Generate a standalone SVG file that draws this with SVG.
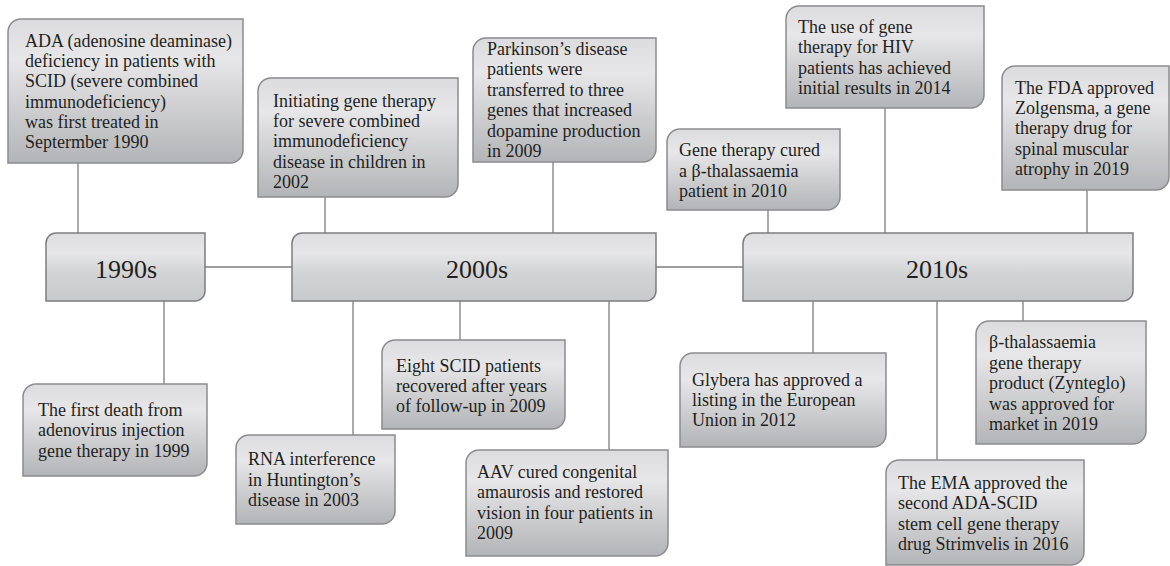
<svg xmlns="http://www.w3.org/2000/svg" width="1170" height="566" viewBox="0 0 1170 566">
<defs>
<linearGradient id="g" x1="0" y1="0" x2="0" y2="1">
<stop offset="0" stop-color="#dcdcde"/>
<stop offset="0.28" stop-color="#e7e7e9"/>
<stop offset="1" stop-color="#b3b4b7"/>
</linearGradient>
<linearGradient id="gd" x1="0" y1="0" x2="0" y2="1">
<stop offset="0" stop-color="#dedee0"/>
<stop offset="0.3" stop-color="#e6e6e8"/>
<stop offset="0.6" stop-color="#d2d3d5"/>
<stop offset="1" stop-color="#c9cacc"/>
</linearGradient>
<style>
.box{fill:url(#g);stroke:#8c8c8e;stroke-width:1.5}
.dec{fill:url(#gd);stroke:#7d7d7f;stroke-width:1.5}
.t{font-family:"Liberation Serif","Times New Roman",serif;font-size:18px;fill:#231f20}
.d{font-family:"Liberation Serif","Times New Roman",serif;font-size:26px;fill:#231f20;text-anchor:middle}
.c{stroke:#7f7f81;stroke-width:1.3;fill:none}
</style>
</defs>
<rect width="1170" height="566" fill="#ffffff"/>
<g id="connectors" class="c">
<path d="M78 163V233M164 301V384M205 267H292M325 197V233M553 162V233M353 301V435M460 301V340M609 301V450M656 267H743M768 210V233M885 108V233M1087 190V233M813 301V353M937 301V460M1023 301V321"/>
</g>
<g id="d1990">
<path class="dec" d="M56 233H205V291A10 10 0 0 1 195 301H46V243A10 10 0 0 1 56 233Z"/>
<text class="d" x="126" y="278">1990s</text>
</g>
<g id="d2000">
<path class="dec" d="M302 233H656V291A10 10 0 0 1 646 301H292V243A10 10 0 0 1 302 233Z"/>
<text class="d" x="477" y="278">2000s</text>
</g>
<g id="d2010">
<path class="dec" d="M753 233H1133V291A10 10 0 0 1 1123 301H743V243A10 10 0 0 1 753 233Z"/>
<text class="d" x="937" y="278">2010s</text>
</g>
<g id="n1">
<path class="box" d="M21 19H243V150A13 13 0 0 1 230 163H8V32A13 13 0 0 1 21 19Z"/>
<text class="t" x="25" y="47">ADA (adenosine deaminase)<tspan x="25" dy="20.2">deficiency in patients with</tspan><tspan x="25" dy="20.2">SCID (severe combined</tspan><tspan x="25" dy="20.2">immunodeficiency)</tspan><tspan x="25" dy="20.2">was first treated in</tspan><tspan x="25" dy="20.2">Septermber 1990</tspan></text>
</g>
<g id="n2">
<path class="box" d="M271 78H458V184A13 13 0 0 1 445 197H258V91A13 13 0 0 1 271 78Z"/>
<text class="t" x="273" y="107">Initiating gene therapy<tspan x="273" dy="20.2">for severe combined</tspan><tspan x="273" dy="20.2">immunodeficiency</tspan><tspan x="273" dy="20.2">disease in children in</tspan><tspan x="273" dy="20.2">2002</tspan></text>
</g>
<g id="n3">
<path class="box" d="M486 38H656V149A13 13 0 0 1 643 162H473V51A13 13 0 0 1 486 38Z"/>
<text class="t" x="487" y="55">Parkinson’s disease<tspan x="487" dy="20.4">patients were</tspan><tspan x="487" dy="20.4">transferred to three</tspan><tspan x="487" dy="20.4">genes that increased</tspan><tspan x="487" dy="20.4">dopamine production</tspan><tspan x="487" dy="20.4">in 2009</tspan></text>
</g>
<g id="n4">
<path class="box" d="M680 129H840V197A13 13 0 0 1 827 210H667V142A13 13 0 0 1 680 129Z"/>
<text class="t" x="679" y="156">Gene therapy cured<tspan x="679" dy="20.5">a β-thalassaemia</tspan><tspan x="679" dy="20.5">patient in 2010</tspan></text>
</g>
<g id="n5">
<path class="box" d="M799 6H984V95A13 13 0 0 1 971 108H786V19A13 13 0 0 1 799 6Z"/>
<text class="t" x="798" y="33">The use of gene<tspan x="798" dy="20.4">therapy for HIV</tspan><tspan x="798" dy="20.4">patients has achieved</tspan><tspan x="798" dy="20.4">initial results in 2014</tspan></text>
</g>
<g id="n6">
<path class="box" d="M1015 66H1169V177A13 13 0 0 1 1156 190H1002V79A13 13 0 0 1 1015 66Z"/>
<text class="t" x="1015" y="94">The FDA approved<tspan x="1015" dy="20.2">Zolgensma, a gene</tspan><tspan x="1015" dy="20.2">therapy drug for</tspan><tspan x="1015" dy="20.2">spinal muscular</tspan><tspan x="1015" dy="20.2">atrophy in 2019</tspan></text>
</g>
<g id="n7">
<path class="box" d="M36 384H207V463A13 13 0 0 1 194 476H23V397A13 13 0 0 1 36 384Z"/>
<text class="t" x="38" y="416">The first death from<tspan x="38" dy="20.4">adenovirus injection</tspan><tspan x="38" dy="20.4">gene therapy in 1999</tspan></text>
</g>
<g id="n8">
<path class="box" d="M249 435H395V511A13 13 0 0 1 382 524H236V448A13 13 0 0 1 249 435Z"/>
<text class="t" x="248" y="465">RNA interference<tspan x="248" dy="20.5">in Huntington’s</tspan><tspan x="248" dy="20.5">disease in 2003</tspan></text>
</g>
<g id="n9">
<path class="box" d="M395 340H565V416A13 13 0 0 1 552 429H382V353A13 13 0 0 1 395 340Z"/>
<text class="t" x="396" y="372">Eight SCID patients<tspan x="396" dy="20.2">recovered after years</tspan><tspan x="396" dy="20.2">of follow-up in 2009</tspan></text>
</g>
<g id="n10">
<path class="box" d="M479 450H668V543A13 13 0 0 1 655 556H466V463A13 13 0 0 1 479 450Z"/>
<text class="t" x="477" y="478">AAV cured congenital<tspan x="477" dy="20.4">amaurosis and restored</tspan><tspan x="477" dy="20.4">vision in four patients in</tspan><tspan x="477" dy="20.4">2009</tspan></text>
</g>
<g id="n11">
<path class="box" d="M693 353H886V434A13 13 0 0 1 873 447H680V366A13 13 0 0 1 693 353Z"/>
<text class="t" x="692" y="386">Glybera has approved a<tspan x="692" dy="20.2">listing in the European</tspan><tspan x="692" dy="20.2">Union in 2012</tspan></text>
</g>
<g id="n12">
<path class="box" d="M899 460H1084V552A13 13 0 0 1 1071 565H886V473A13 13 0 0 1 899 460Z"/>
<text class="t" x="898" y="489">The EMA approved the<tspan x="898" dy="20.4">second ADA-SCID</tspan><tspan x="898" dy="20.4">stem cell gene therapy</tspan><tspan x="898" dy="20.4">drug Strimvelis in 2016</tspan></text>
</g>
<g id="n13">
<path class="box" d="M989 321H1146V431A13 13 0 0 1 1133 444H976V334A13 13 0 0 1 989 321Z"/>
<text class="t" x="989" y="348">β-thalassaemia<tspan x="989" dy="20.5">gene therapy</tspan><tspan x="989" dy="20.5">product (Zynteglo)</tspan><tspan x="989" dy="20.5">was approved for</tspan><tspan x="989" dy="20.5">market in 2019</tspan></text>
</g>
</svg>
